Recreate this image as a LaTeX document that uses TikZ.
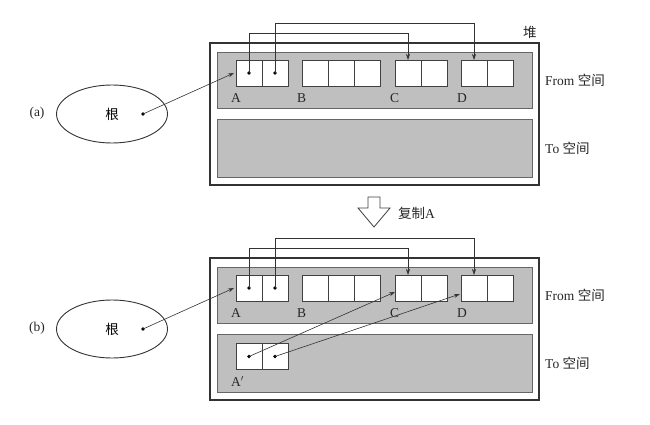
\documentclass[tikz,border=0pt]{standalone}
\usepackage{fontspec}
\setmainfont{Liberation Serif}
\newfontfamily\cjk{Noto Sans CJK SC}
\usetikzlibrary{arrows.meta,shapes.geometric}
\tikzset{
  cell/.style={draw=black!75, fill=white, minimum width=26pt, minimum height=26pt, inner sep=0pt, outer sep=0pt, line width=0.6pt},
  heapbox/.style={draw=black!80, line width=1.1pt},
  spacebox/.style={draw=black!60, fill=black!25, line width=0.7pt},
  ptr/.style={draw=black!80, line width=0.6pt, -{Stealth[length=6pt,width=4pt]}},
  ptrdot/.style={circle, fill=black, inner sep=0pt, minimum size=3.6pt},
  lbl/.style={inner sep=0pt, anchor=west, text=black!85},
  rootnode/.style={ellipse, draw=black!80, line width=0.9pt, minimum width=111pt, minimum height=58pt, inner sep=0pt},
}
\newcommand{\heapdiagram}[3]{%
\begin{scope}[yshift=#2]
  \draw[heapbox] (210,43) rectangle (539,185);
  \draw[spacebox] (217,52) rectangle (532,108);
  \draw[spacebox] (217,119) rectangle (532,177);
  \node[cell] (#1A1) at (249,73) {};
  \node[cell] (#1A2) at (275,73) {};
  \node[cell] (#1B1) at (315,73) {};
  \node[cell] (#1B2) at (341,73) {};
  \node[cell] (#1B3) at (367,73) {};
  \node[cell] (#1C1) at (408,73) {};
  \node[cell] (#1C2) at (434,73) {};
  \node[cell] (#1D1) at (474,73) {};
  \node[cell] (#1D2) at (500,73) {};
  \node[ptrdot] (#1p1) at (#1A1.center) {};
  \node[ptrdot] (#1p2) at (#1A2.center) {};
  \node[lbl] at ([xshift=-5pt,yshift=-12pt]#1A1.south west) {A};
  \node[lbl] at ([xshift=-5pt,yshift=-12pt]#1B1.south west) {B};
  \node[lbl] at ([xshift=-5pt,yshift=-12pt]#1C1.south west) {C};
  \node[lbl] at ([xshift=-4pt,yshift=-12pt]#1D1.south west) {D};
  \draw[ptr] (#1p1.center) -- ++(0,-40) -| (#1C1.north);
  \draw[ptr] (#1p2.center) -- ++(0,-50) -| (#1D1.north);
  \node[lbl] (#1from) at (545,80) {From {\cjk 空间}};
  \node[lbl] (#1to) at (545,148) {To {\cjk 空间}};
  \node[rootnode] (#1root) at (112,114) {\cjk 根};
  \node[ptrdot] (#1rdot) at (143,114) {};
  \node[text=black!85] (#1tag) at (37,113) {#3};
  \draw[ptr] (#1rdot.center) -- ([xshift=-2pt]#1A1.west);
\end{scope}}
\begin{document}
\begin{tikzpicture}[x=1pt,y=-1pt,font=\fontsize{13.5}{16}\selectfont]
\useasboundingbox (0,0) rectangle (650,425);
\heapdiagram{a}{0pt}{(a)}
\node[lbl] (heaplbl) at (523,32) {\cjk 堆};
% copy arrow
\draw[draw=black!75, line width=0.8pt, fill=white] (358,208) -- (368,208) -- (368,197) -- (380,197) -- (380,208) -- (390,208) -- (374,227) -- cycle;
\node[lbl] (copylbl) at (398,213) {{\cjk 复制}A};
\heapdiagram{b}{-215pt}{(b)}
% copied object A'
\node[cell] (bN1) at (249,356.5) {};
\node[cell] (bN2) at (275,356.5) {};
\node[ptrdot] (bn1) at (bN1.center) {};
\node[ptrdot] (bn2) at (bN2.center) {};
\node[lbl] at ([xshift=-5pt,yshift=-12pt]bN1.south west) {A$'$};
\draw[ptr] (bn1.center) -- ([yshift=-4pt]bC1.west);
\draw[ptr] (bn2.center) -- ([xshift=-1pt,yshift=-6pt]bD1.west);
\end{tikzpicture}
\end{document}
